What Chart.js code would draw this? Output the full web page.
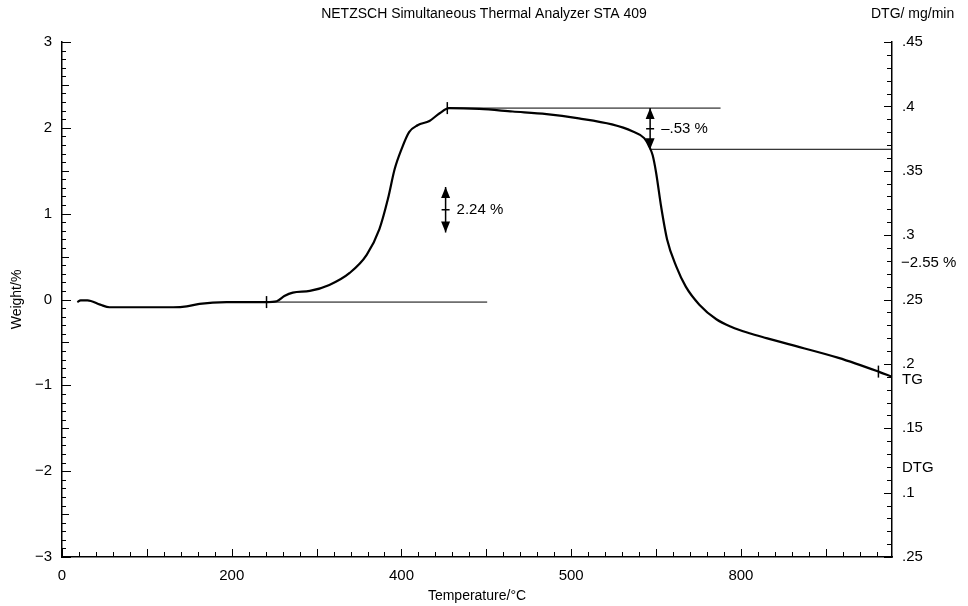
<!DOCTYPE html>
<html>
<head>
<meta charset="utf-8">
<script src="https://cdn.jsdelivr.net/npm/chart.js@4.4.1/dist/chart.umd.min.js"></script>
<style>
    body { margin: 0; background: #fff; }
    #wrap { width: 968px; height: 606px; }
</style>
</head>
<body>
<div id="wrap"><canvas id="staChart" width="968" height="606"></canvas></div>
<script>
// TG curve (temperature in °C, weight change in %)
const tgTemp = [18, 22, 30, 45, 56, 92, 131, 147, 162, 194, 241, 253, 262, 272, 292, 315, 339, 359, 374, 384, 392, 400, 409, 419, 433, 445, 456,
    492, 531, 571, 609, 648, 672, 686, 692, 696, 700, 706, 713, 724, 735, 751, 771, 789, 809, 830, 856, 915, 962, 978];
const tgWeight = [-0.03, -0.01, -0.01, -0.06, -0.09, -0.09, -0.09, -0.08, -0.05, -0.03, -0.03, -0.02, 0.04, 0.08, 0.10, 0.17, 0.31, 0.52, 0.82, 1.17, 1.52, 1.75, 1.95, 2.03, 2.08, 2.17, 2.23,
    2.22, 2.19, 2.16, 2.11, 2.04, 1.96, 1.88, 1.78, 1.68, 1.48, 1.08, 0.70, 0.38, 0.15, -0.06, -0.23, -0.32, -0.39, -0.45, -0.52, -0.68, -0.84, -0.90];

// evaluation lines
const baseLineTemp = [198, 501];
const baseLineWeight = [-0.03, -0.03];
const topLineTemp = [454, 776];
const topLineWeight = [2.23, 2.23];
const lowLineTemp = [693, 978];
const lowLineWeight = [1.75, 1.75];

// cross marks on the curve
const markTemp = [241, 454, 962];
const markWeight = [-0.03, 2.23, -0.84];

// step arrows and their labels
const stepTemp = [452, 693];
const stepFrom = [0.78, 1.75];
const stepTo = [1.31, 2.23];
const stepLabels = ['2.24 %', '\u2013.53 %'];

// axis tick labels (as printed)
const xTickValues = [0, 200, 400, 600, 800];
const xTickLabels = ['0', '200', '400', '500', '800'];
const dtgTickLabels = ['.25', '.1', '.15', '.2', '.25', '.3', '.35', '.4', '.45'];

const FONT = 'Liberation Sans, Arial, Helvetica, sans-serif';

function pts(xs, ys) {
    return xs.map((x, i) => ({ x: x, y: ys[i] }));
}

// inward tick marks on all three axes
const innerTicks = {
    id: 'innerTicks',
    afterDraw(chart) {
        const c = chart.ctx;
        const xs = chart.scales.x, ys = chart.scales.y, y2 = chart.scales.y2;
        const area = chart.chartArea;
        c.save();
        c.strokeStyle = '#000';
        c.lineWidth = 1;
        c.beginPath();
        for (let t = 0; t <= xs.max; t += 20) {
            const px = Math.round(xs.getPixelForValue(t)) + 0.5;
            const len = t % 100 === 0 ? 8 : 5;
            c.moveTo(px, area.bottom);
            c.lineTo(px, area.bottom - len);
        }
        for (let i = -30; i <= 30; i++) {
            const py = Math.round(ys.getPixelForValue(i / 10)) + 0.5;
            const len = i % 10 === 0 ? 9 : (i % 5 === 0 ? 7 : 4);
            c.moveTo(area.left, py);
            c.lineTo(area.left + len, py);
        }
        for (let i = 5; i <= 45; i++) {
            const py = Math.round(y2.getPixelForValue(i / 100)) + 0.5;
            const len = i % 5 === 0 ? 8 : 5;
            c.moveTo(area.right, py);
            c.lineTo(area.right - len, py);
        }
        c.stroke();
        c.restore();
    }
};

// double arrows for the mass steps, plus free texts
const annotations = {
    id: 'annotations',
    afterDraw(chart) {
        const c = chart.ctx;
        const xs = chart.scales.x, ys = chart.scales.y;
        c.save();
        c.strokeStyle = '#000';
        c.fillStyle = '#000';
        c.lineWidth = 1.5;
        stepTemp.forEach((t, i) => {
            const px = xs.getPixelForValue(t);
            const pTop = ys.getPixelForValue(stepTo[i]);
            const pBot = ys.getPixelForValue(stepFrom[i]);
            c.beginPath();
            c.moveTo(px, pTop);
            c.lineTo(px, pBot);
            const mid = (pTop + pBot) / 2;
            c.moveTo(px - 4, mid);
            c.lineTo(px + 4, mid);
            c.stroke();
            c.beginPath();
            c.moveTo(px, pTop);
            c.lineTo(px - 4.5, pTop + 11);
            c.lineTo(px + 4.5, pTop + 11);
            c.closePath();
            c.moveTo(px, pBot);
            c.lineTo(px - 4.5, pBot - 11);
            c.lineTo(px + 4.5, pBot - 11);
            c.closePath();
            c.fill();
            c.font = '15px ' + FONT;
            c.textAlign = 'left';
            c.textBaseline = 'middle';
            c.fillText(stepLabels[i], px + 11, mid);
        });

        c.font = '14px ' + FONT;
        c.textBaseline = 'middle';
        c.textAlign = 'center';
        c.fillText('NETZSCH Simultaneous Thermal Analyzer STA 409', 484, 14);
        c.textAlign = 'left';
        c.fillText('DTG/ mg/min', 871, 14);
        c.font = '15px ' + FONT;
        c.fillText('\u22122.55 %', 901, 263);
        c.fillText('TG', 902, 380);
        c.fillText('DTG', 902, 468);
        c.restore();
    }
};

const thinLine = { borderColor: '#000', borderWidth: 1, pointRadius: 0, showLine: true, fill: false };

new Chart(document.getElementById('staChart'), {
    type: 'scatter',
    data: {
        datasets: [
            { data: pts(baseLineTemp, baseLineWeight), ...thinLine },
            { data: pts(topLineTemp, topLineWeight), ...thinLine },
            { data: pts(lowLineTemp, lowLineWeight), ...thinLine },
            {
                data: pts(tgTemp, tgWeight),
                showLine: true,
                borderColor: '#000',
                borderWidth: 2.2,
                pointRadius: 0,
                cubicInterpolationMode: 'monotone'
            },
            {
                data: pts(markTemp, markWeight),
                showLine: false,
                pointStyle: 'line',
                rotation: 90,
                pointRadius: 6,
                borderColor: '#000',
                borderWidth: 1.5
            }
        ]
    },
    options: {
        responsive: false,
        animation: false,
        layout: { padding: { top: 42, left: 0, right: 0, bottom: 0 } },
        plugins: {
            legend: { display: false },
            tooltip: { enabled: false }
        },
        scales: {
            x: {
                type: 'linear',
                position: 'bottom',
                min: 0,
                max: 978,
                afterFit: s => { s.height = 49; },
                afterBuildTicks: s => { s.ticks = xTickValues.map(v => ({ value: v })); },
                grid: { display: false, drawTicks: false },
                border: { display: true, color: '#000', width: 1.5 },
                ticks: {
                    autoSkip: false,
                    padding: 10,
                    color: '#000',
                    maxRotation: 0,
                    font: { family: FONT, size: 15 },
                    callback: (v, i) => xTickLabels[i]
                },
                title: {
                    display: true,
                    text: 'Temperature/\u00B0C',
                    color: '#000',
                    font: { family: FONT, size: 14 },
                    padding: { top: 0, bottom: 1 }
                }
            },
            y: {
                type: 'linear',
                position: 'left',
                min: -3,
                max: 3,
                afterFit: s => { s.width = 62; },
                grid: { display: false, drawTicks: false },
                border: { display: true, color: '#000', width: 1.5 },
                ticks: {
                    stepSize: 1,
                    padding: 10,
                    color: '#000',
                    font: { family: FONT, size: 15 },
                    callback: v => (v < 0 ? '\u2212' + Math.abs(v) : String(v))
                },
                title: {
                    display: true,
                    text: 'Weight/%',
                    color: '#000',
                    font: { family: FONT, size: 14 },
                    padding: { top: 9, bottom: 0 }
                }
            },
            y2: {
                type: 'linear',
                position: 'right',
                min: 0.05,
                max: 0.45,
                afterFit: s => { s.width = 76; },
                grid: { display: false, drawTicks: false },
                border: { display: true, color: '#000', width: 1.5 },
                ticks: {
                    stepSize: 0.05,
                    padding: 10,
                    color: '#000',
                    font: { family: FONT, size: 15 },
                    callback: (v, i) => dtgTickLabels[i]
                }
            }
        }
    },
    plugins: [innerTicks, annotations]
});
</script>
</body>
</html>
